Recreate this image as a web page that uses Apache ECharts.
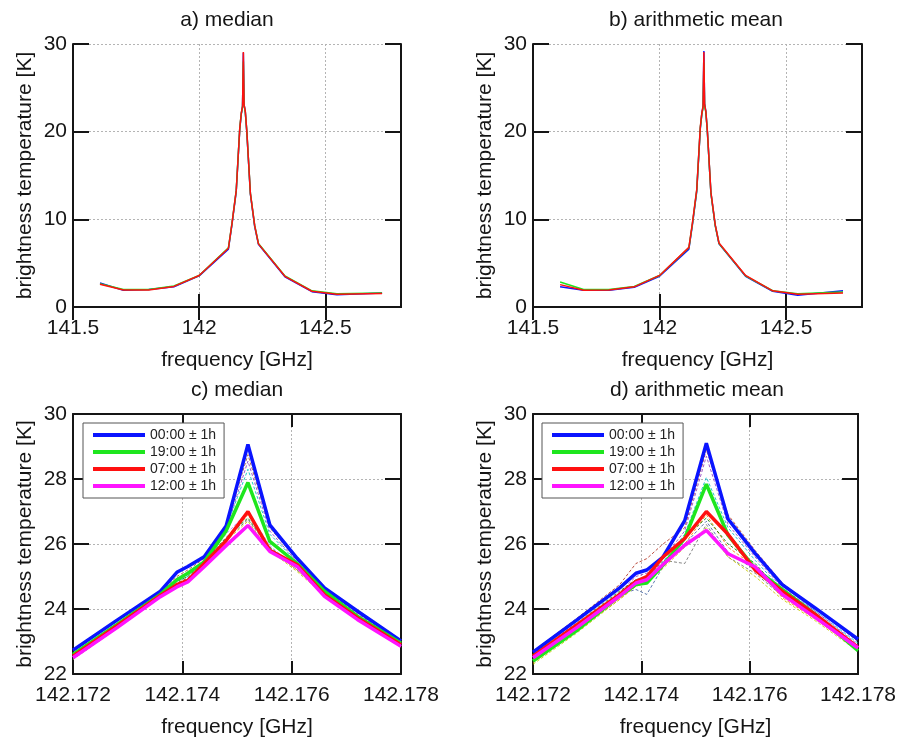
<!DOCTYPE html>
<html><head><meta charset="utf-8">
<script src="https://cdn.jsdelivr.net/npm/echarts@6/dist/echarts.min.js"></script>
<style>html,body{margin:0;padding:0;background:#fff}#chart{width:899px;height:739px}</style>
</head><body><div id="chart"></div>
<script>
// ---------- data: panels a & b (full band) ----------
const A_FREQ = [141.607, 141.70, 141.80, 141.90, 142.00, 142.116, 142.130, 142.147, 142.161, 142.167, 142.172, 142.1752, 142.178, 142.183, 142.189, 142.203, 142.220, 142.235, 142.340, 142.447, 142.546, 142.725];
const a_blue  = [2.75, 1.90, 2.00, 2.30, 3.55, 6.60, 9.4, 13.2, 20.3, 22.0, 22.9, 29.0, 23.1, 22.2, 19.9, 12.9, 9.2, 7.15, 3.45, 1.75, 1.40, 1.60];
const a_green = [2.65, 2.00, 2.00, 2.40, 3.60, 6.75, 9.5, 13.3, 20.4, 22.1, 22.8, 28.0, 23.0, 22.2, 20.0, 13.0, 9.3, 7.25, 3.55, 1.85, 1.50, 1.60];
const a_red   = [2.60, 1.95, 1.95, 2.35, 3.60, 6.70, 9.5, 13.3, 20.4, 22.1, 22.9, 29.1, 23.1, 22.3, 20.0, 13.0, 9.3, 7.20, 3.50, 1.80, 1.45, 1.55];
const b_blue  = [2.30, 1.90, 1.90, 2.25, 3.50, 6.60, 9.4, 13.2, 20.3, 22.0, 22.9, 29.2, 23.2, 22.3, 20.0, 13.0, 9.3, 7.20, 3.50, 1.80, 1.35, 1.85];
const b_green = [2.85, 2.00, 2.00, 2.35, 3.60, 6.75, 9.5, 13.3, 20.4, 22.0, 22.7, 27.9, 23.0, 22.2, 20.0, 13.0, 9.3, 7.25, 3.55, 1.85, 1.50, 1.70];
const b_red   = [2.55, 1.90, 1.95, 2.30, 3.60, 6.80, 9.6, 13.4, 20.5, 22.1, 22.9, 29.1, 23.1, 22.3, 20.1, 13.1, 9.4, 7.30, 3.60, 1.85, 1.45, 1.60];

// ---------- data: panels c & d (line centre) ----------
const C_FREQ = [142.1720, 142.1728, 142.1736, 142.1739, 142.1741, 142.1744, 142.1748, 142.1752, 142.1756, 142.1761, 142.1766, 142.1772, 142.1780];
const SERIES_NAMES = ['00:00 \u00b1 1h', '19:00 \u00b1 1h', '07:00 \u00b1 1h', '12:00 \u00b1 1h'];
const c_blue  = [22.73, 23.65, 24.55, 25.13, 25.31, 25.61, 26.55, 29.06, 26.59, 25.56, 24.65, 23.94, 23.02];
const c_green = [22.60, 23.52, 24.45, 24.90, 25.10, 25.45, 26.40, 27.89, 26.08, 25.40, 24.55, 23.78, 22.95];
const c_red   = [22.55, 23.48, 24.42, 24.75, 24.88, 25.40, 26.10, 27.00, 25.81, 25.36, 24.44, 23.73, 22.90];
const c_mag   = [22.50, 23.42, 24.38, 24.68, 24.83, 25.30, 25.95, 26.57, 25.77, 25.31, 24.39, 23.68, 22.85];
const c_thin = [
  [22.45, 23.40, 24.40, 24.85, 25.00, 25.50, 26.50, 28.30, 26.30, 25.45, 24.55, 23.80, 22.85],
  [22.60, 23.55, 24.50, 25.00, 25.20, 25.55, 26.55, 28.75, 26.50, 25.50, 24.60, 23.88, 22.95],
  [22.55, 23.50, 24.45, 24.95, 25.10, 25.50, 26.45, 28.55, 26.40, 25.45, 24.55, 23.85, 22.92],
  [22.50, 23.45, 24.40, 24.80, 24.95, 25.40, 26.10, 26.90, 25.85, 25.20, 24.45, 23.75, 22.85],
  [22.55, 23.45, 24.42, 24.85, 25.00, 25.45, 26.20, 26.80, 25.90, 25.25, 24.50, 23.78, 22.88],
  [22.50, 23.42, 24.40, 24.80, 24.95, 25.40, 26.15, 26.75, 25.85, 25.20, 24.45, 23.75, 22.85],
  [22.50, 23.45, 24.42, 24.90, 25.05, 25.45, 26.30, 27.00, 25.95, 25.25, 24.50, 23.78, 22.88],
  [22.45, 23.40, 24.38, 24.78, 24.92, 25.38, 26.10, 26.70, 25.80, 25.15, 24.42, 23.72, 22.82]
];
const d_blue  = [22.67, 23.65, 24.65, 25.10, 25.20, 25.60, 26.72, 29.10, 26.77, 25.71, 24.75, 24.04, 23.07];
const d_green = [22.40, 23.33, 24.40, 24.75, 24.80, 25.35, 26.17, 27.84, 26.27, 25.25, 24.60, 23.85, 22.72];
const d_red   = [22.55, 23.50, 24.45, 24.85, 25.00, 25.60, 26.17, 27.00, 26.30, 25.20, 24.55, 23.85, 22.82];
const d_mag   = [22.50, 23.42, 24.40, 24.80, 24.90, 25.37, 25.96, 26.42, 25.70, 25.30, 24.45, 23.75, 22.80];
const d_thin = [
  [22.70, 23.70, 24.75, 25.40, 25.55, 26.00, 26.50, 28.90, 26.90, 25.80, 24.80, 24.05, 23.00],
  [22.50, 23.45, 24.50, 24.90, 25.00, 25.45, 26.30, 28.05, 26.50, 25.50, 24.60, 23.95, 22.95],
  [22.45, 23.40, 24.45, 24.60, 24.45, 25.30, 26.00, 26.70, 25.75, 25.20, 24.40, 23.80, 22.80],
  [22.50, 23.45, 24.40, 24.80, 24.90, 25.50, 25.40, 26.60, 25.60, 25.10, 24.40, 23.75, 22.78],
  [22.55, 23.50, 24.50, 25.00, 25.10, 25.55, 26.40, 28.70, 26.60, 25.60, 24.65, 23.95, 22.90],
  [22.35, 23.30, 24.30, 24.70, 24.80, 25.30, 26.00, 26.90, 25.90, 25.30, 24.35, 23.70, 22.75],
  [22.60, 23.55, 24.55, 24.90, 24.95, 25.40, 26.20, 26.80, 26.00, 25.40, 24.50, 23.80, 22.85],
  [22.30, 23.25, 24.30, 24.70, 24.80, 25.25, 25.90, 26.50, 25.60, 25.00, 24.30, 23.65, 22.70]
];
const AB_TICKS = [141.5, 142, 142.5];

// ---------- styling ----------
const FONT = 'Liberation Sans, Arial, Helvetica, sans-serif';
const INK = '#151515';
const THICK = ['#0a14ff', '#1ee61e', '#ff1010', '#ff14ff'];
const THIN_C = ['#00c0c0', '#a0522d', '#9040c0', '#ff8000', '#008000', '#606060', '#c080ff', '#c8c800'];
const THIN_D = ['#b03020', '#00b8c8', '#4060a0', '#707070', '#9040c0', '#ff8000', '#008000', '#c8c800'];
const GRIDS = [
  {left: 73, top: 44, width: 328, height: 263},
  {left: 533, top: 44, width: 329, height: 263},
  {left: 73, top: 414, width: 328, height: 263},
  {left: 533, top: 414, width: 328, height: 263}
];
const XR = [
  {min: 141.5, max: 142.8, interval: 0.5, custom: AB_TICKS},
  {min: 141.5, max: 142.8, interval: 0.5, custom: AB_TICKS},
  {min: 142.172, max: 142.178, interval: 0.002, fmt: v => v.toFixed(3)},
  {min: 142.172, max: 142.178, interval: 0.002, fmt: v => v.toFixed(3)}
];
const YR = [
  {min: 0, max: 30, interval: 10},
  {min: 0, max: 30, interval: 10},
  {min: 22, max: 30, interval: 2},
  {min: 22, max: 30, interval: 2}
];
const TITLES = ['a) median', 'b) arithmetic mean', 'c) median', 'd) arithmetic mean'];

const frame = {show: true, lineStyle: {color: INK, width: 2}};
const gridLine = {show: true, lineStyle: {color: '#b4b4b4', width: 1, type: [2, 2]}};

const xAxis = [], yAxis = [];
function xTick(r) {
  const t = {show: true, inside: true, length: 13, lineStyle: {color: INK, width: 2}};
  if (r.custom) t.customValues = r.custom;
  return t;
}
XR.forEach((r, i) => {
  const lab = {fontSize: 21, color: INK, fontFamily: FONT, margin: 11, hideOverlap: false};
  if (r.custom) { lab.customValues = r.custom; lab.formatter = v => String(v); }
  else lab.formatter = r.fmt;
  xAxis.push({
    gridIndex: i, type: 'value', position: 'bottom', min: r.min, max: r.max, interval: r.interval,
    axisLine: frame, axisTick: xTick(r), axisLabel: lab,
    splitLine: gridLine,
    name: 'frequency [GHz]', nameLocation: 'middle', nameGap: 43,
    nameTextStyle: {fontSize: 21, color: INK, fontFamily: FONT}
  });
});
XR.forEach((r, i) => {
  xAxis.push({
    gridIndex: i, type: 'value', position: 'top', min: r.min, max: r.max, interval: r.interval,
    axisLine: frame, axisTick: xTick(r),
    axisLabel: {show: false}, splitLine: {show: false}
  });
});
YR.forEach((r, i) => {
  yAxis.push({
    gridIndex: i, type: 'value', position: 'left', min: r.min, max: r.max, interval: r.interval,
    axisLine: frame,
    axisTick: {show: true, inside: true, length: 16, lineStyle: {color: INK, width: 2}},
    axisLabel: {fontSize: 21, color: INK, fontFamily: FONT, margin: 6},
    splitLine: gridLine,
    name: 'brightness temperature [K]', nameLocation: 'middle', nameGap: 37, nameRotate: 90,
    nameTextStyle: {fontSize: 21, color: INK, fontFamily: FONT}
  });
});
YR.forEach((r, i) => {
  yAxis.push({
    gridIndex: i, type: 'value', position: 'right', min: r.min, max: r.max, interval: r.interval,
    axisLine: frame,
    axisTick: {show: true, inside: true, length: 16, lineStyle: {color: INK, width: 2}},
    axisLabel: {show: false}, splitLine: {show: false}
  });
});

const zip = (xs, ys) => xs.map((x, k) => [x, ys[k]]);
const series = [];
function addLine(panel, name, xs, ys, color, width, dashed) {
  series.push({
    type: 'line', name: name, xAxisIndex: panel, yAxisIndex: panel,
    data: zip(xs, ys), symbol: 'none', showSymbol: false, clip: true, silent: true,
    lineStyle: {color: color, width: width, type: dashed ? [3, 2] : 'solid', opacity: dashed ? 0.85 : 1},
    itemStyle: {color: color}, z: dashed ? 2 : 3
  });
}
// a & b
addLine(0, 'a blue', A_FREQ, a_blue, THICK[0], 1.5);
addLine(0, 'a green', A_FREQ, a_green, THICK[1], 1.5);
addLine(0, 'a red', A_FREQ, a_red, THICK[2], 1.5);
addLine(1, 'b blue', A_FREQ, b_blue, THICK[0], 1.5);
addLine(1, 'b green', A_FREQ, b_green, THICK[1], 1.5);
addLine(1, 'b red', A_FREQ, b_red, THICK[2], 1.5);
// c
c_thin.forEach((ys, k) => addLine(2, 'c day ' + k, C_FREQ, ys, THIN_C[k], 1, true));
[c_blue, c_green, c_red, c_mag].forEach((ys, k) => addLine(2, SERIES_NAMES[k], C_FREQ, ys, THICK[k], 3.5));
// d
d_thin.forEach((ys, k) => addLine(3, 'd day ' + k, C_FREQ, ys, THIN_D[k], 1, true));
[d_blue, d_green, d_red, d_mag].forEach((ys, k) => addLine(3, SERIES_NAMES[k], C_FREQ, ys, THICK[k], 3.5));

const legendBase = {
  orient: 'vertical', top: 423, data: SERIES_NAMES, icon: 'rect', itemWidth: 52, itemHeight: 4,
  itemGap: 3, padding: [5, 8, 5, 10], borderColor: '#555', borderWidth: 1, borderRadius: 0,
  backgroundColor: '#fff', selectedMode: false,
  textStyle: {fontSize: 14, color: '#222', fontFamily: FONT, lineHeight: 14}
};

const titleCenters = [[227, 20], [696, 20], [237, 390], [697, 390]];
const graphic = TITLES.map((t, i) => ({
  type: 'text', x: titleCenters[i][0], y: titleCenters[i][1],
  style: {text: t, font: '21px ' + FONT, fill: INK, align: 'center', verticalAlign: 'middle'}
}));

const chart = echarts.init(document.getElementById('chart'), null, {renderer: 'canvas'});
chart.setOption({
  backgroundColor: '#fff',
  animation: false,
  grid: GRIDS.map(g => Object.assign({containLabel: false}, g)),
  xAxis: xAxis, yAxis: yAxis, series: series,
  legend: [Object.assign({left: 83}, legendBase), Object.assign({left: 542}, legendBase)],
  graphic: graphic
});
</script></body></html>
